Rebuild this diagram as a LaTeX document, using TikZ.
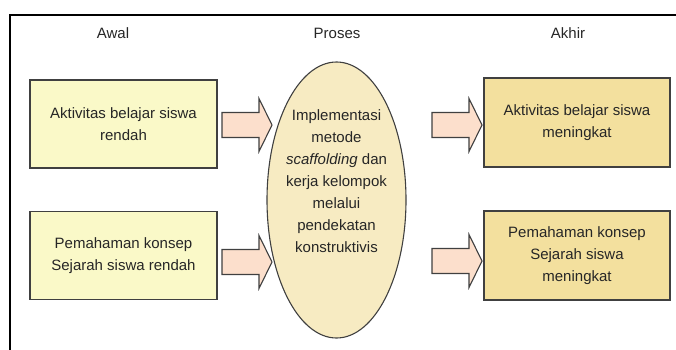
\documentclass[tikz,border=0pt]{standalone}
\usepackage{fontspec}
\setmainfont{Liberation Sans}
\usetikzlibrary{shapes.geometric}
\definecolor{leftfill}{HTML}{FAF9C8}
\definecolor{rightfill}{HTML}{F3E09E}
\definecolor{ellfill}{HTML}{F7EBC2}
\definecolor{arrfill}{HTML}{FCDFCC}
\definecolor{edge}{HTML}{404040}
\begin{document}
\begin{tikzpicture}[x=1pt,y=1pt,
  every node/.style={font=\fontsize{15}{22}\selectfont, text=black!85},
  leftbox/.style={draw=edge, line width=1.1pt, fill=leftfill, minimum width=187pt, minimum height=88pt, align=center, inner sep=0pt},
  rightbox/.style={draw=edge, line width=1.1pt, fill=rightfill, minimum width=186pt, minimum height=89pt, align=center, inner sep=0pt},
  procell/.style={ellipse, draw=edge, line width=1.1pt, fill=ellfill, minimum width=139pt, minimum height=276pt, inner sep=0pt},
  blockarr/.style={draw=edge, line width=1.1pt, fill=arrfill, line join=miter},
  title/.style={inner sep=0pt},
  barrow/.pic={\draw[blockarr] (0,-12.5) -- (37,-12.5) -- (37,-26.5) -- (50,0) -- (37,26.5) -- (37,12.5) -- (0,12.5) -- cycle;}
]
\useasboundingbox (0,0) rectangle (676,349);
\draw[line width=2pt, black] (10,-2) -- (10,334) -- (680,334);

\node[title] (tAwal) at (113,316) {Awal};
\node[title] (tProses) at (337,316) {Proses};
\node[title] (tAkhir) at (568,316) {Akhir};

\node[leftbox] (l1) at (123.5,225) {Aktivitas belajar siswa\\rendah};
\node[leftbox] (l2) at (123.5,93.5) {Pemahaman konsep\\Sejarah siswa rendah};

\node[rightbox] (r1) at (577,226.5) {Aktivitas belajar siswa\\meningkat};
\node[rightbox] (r2) at (577,93.5) {Pemahaman konsep\\Sejarah siswa\\meningkat};

\node[procell] (proc) at (336.5,149) {};
\node[align=center, inner sep=0pt] (proctext) at (336.5,168) {Implementasi\\metode\\\textit{scaffolding} dan\\kerja kelompok\\melalui\\pendekatan\\konstruktivis};

\pic at (222,224) {barrow};
\pic at (222,87) {barrow};
\pic at (432,224) {barrow};
\pic at (432,88) {barrow};
\end{tikzpicture}
\end{document}
